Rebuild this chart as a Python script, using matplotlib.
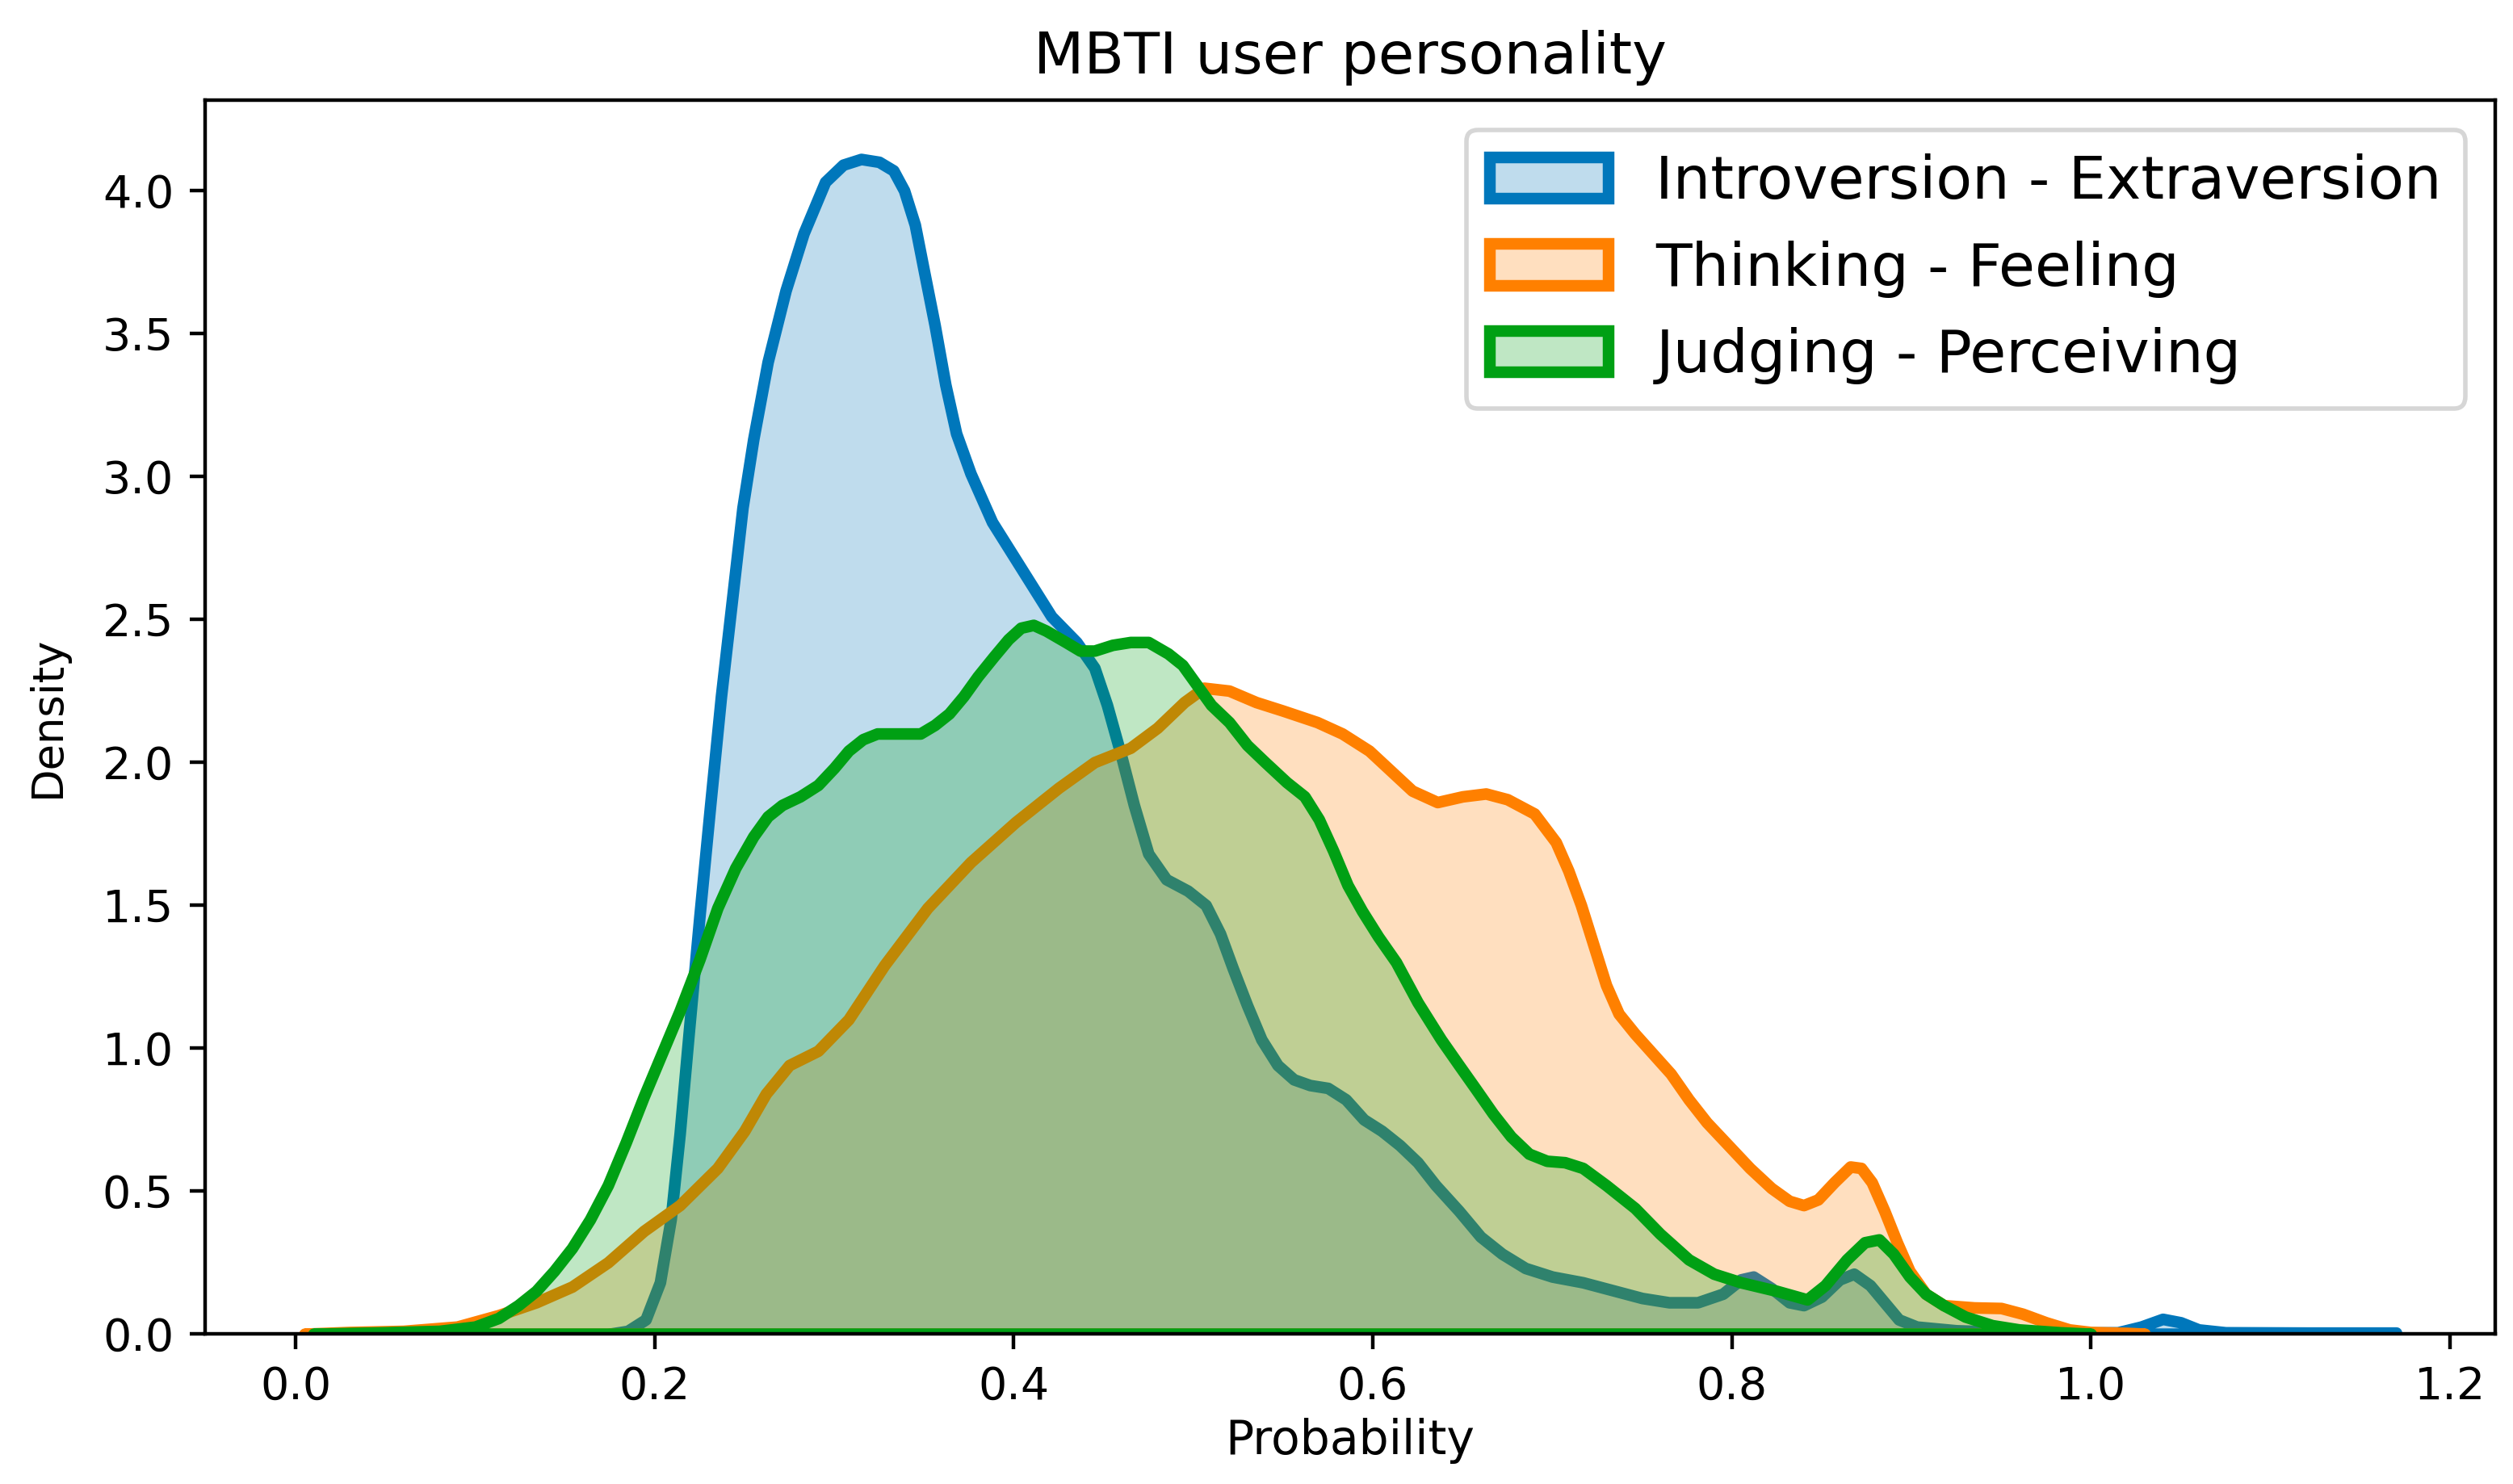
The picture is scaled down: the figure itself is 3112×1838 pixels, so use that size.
import matplotlib
matplotlib.use('Agg')
import matplotlib.pyplot as plt
from matplotlib.colors import to_rgba

# densities
ie_x = [0.175, 0.185, 0.195, 0.203, 0.209, 0.214, 0.219, 0.225, 0.231, 0.237,
        0.243, 0.249, 0.255, 0.263, 0.273, 0.283, 0.295, 0.305, 0.315, 0.325,
        0.333, 0.339, 0.345, 0.350, 0.356, 0.362, 0.368, 0.376, 0.388, 0.405,
        0.421, 0.435, 0.445, 0.452, 0.460, 0.467, 0.475, 0.485, 0.497, 0.507,
        0.515, 0.522, 0.530, 0.538, 0.547, 0.556, 0.565, 0.575, 0.585, 0.595,
        0.605, 0.615, 0.625, 0.635, 0.648, 0.660, 0.672, 0.685, 0.700, 0.717,
        0.735, 0.750, 0.765, 0.781, 0.795, 0.805, 0.812, 0.822, 0.832, 0.840,
        0.850, 0.860, 0.868, 0.877, 0.885, 0.893, 0.903, 0.925, 0.955, 0.990,
        1.015, 1.028, 1.040, 1.050, 1.060, 1.075, 1.120, 1.170]
ie_y = [0.0, 0.01, 0.05, 0.18, 0.40, 0.70, 1.05, 1.46, 1.85, 2.23,
        2.56, 2.89, 3.13, 3.40, 3.65, 3.85, 4.03, 4.09, 4.11, 4.10,
        4.07, 4.00, 3.88, 3.72, 3.53, 3.32, 3.15, 3.01, 2.84, 2.67,
        2.51, 2.42, 2.33, 2.20, 2.02, 1.85, 1.68, 1.59, 1.55, 1.50,
        1.40, 1.28, 1.15, 1.03, 0.94, 0.89, 0.87, 0.86, 0.82, 0.75,
        0.71, 0.66, 0.60, 0.52, 0.43, 0.34, 0.28, 0.23, 0.20, 0.18,
        0.15, 0.125, 0.11, 0.11, 0.14, 0.19, 0.20, 0.16, 0.11, 0.10,
        0.13, 0.19, 0.21, 0.17, 0.11, 0.05, 0.025, 0.012, 0.006, 0.004,
        0.005, 0.025, 0.052, 0.04, 0.015, 0.005, 0.004, 0.004]

tf_x = [0.005, 0.030, 0.060, 0.090, 0.113, 0.134, 0.154, 0.174, 0.194, 0.214,
        0.235, 0.250, 0.262, 0.275, 0.291, 0.308, 0.328, 0.352, 0.376, 0.401,
        0.425, 0.445, 0.465, 0.480, 0.495, 0.506, 0.520, 0.535, 0.550, 0.569,
        0.583, 0.598, 0.610, 0.622, 0.636, 0.650, 0.663, 0.675, 0.690, 0.702,
        0.709, 0.716, 0.723, 0.730, 0.737, 0.746, 0.756, 0.766, 0.776, 0.786,
        0.798, 0.810, 0.822, 0.832, 0.840, 0.848, 0.857, 0.866, 0.872, 0.878,
        0.885, 0.892, 0.899, 0.908, 0.918, 0.935, 0.950, 0.962, 0.975, 0.988,
        1.000, 1.020, 1.030]
tf_y = [0.0, 0.006, 0.01, 0.025, 0.065, 0.11, 0.165, 0.25, 0.36, 0.45,
        0.58, 0.71, 0.84, 0.94, 0.99, 1.10, 1.29, 1.49, 1.65, 1.79,
        1.91, 2.00, 2.05, 2.12, 2.21, 2.26, 2.25, 2.21, 2.18, 2.14,
        2.10, 2.04, 1.97, 1.90, 1.86, 1.88, 1.89, 1.87, 1.82, 1.72,
        1.62, 1.50, 1.36, 1.22, 1.12, 1.05, 0.98, 0.91, 0.82, 0.74,
        0.66, 0.58, 0.51, 0.465, 0.45, 0.47, 0.53, 0.585, 0.58, 0.53,
        0.43, 0.32, 0.22, 0.14, 0.10, 0.092, 0.09, 0.07, 0.04, 0.015,
        0.006, 0.003, 0.0]

jp_x = [0.010, 0.050, 0.080, 0.100, 0.113, 0.124, 0.134, 0.144, 0.154, 0.164,
        0.174, 0.184, 0.194, 0.204, 0.214, 0.225, 0.235, 0.245, 0.255, 0.263,
        0.271, 0.281, 0.291, 0.300, 0.308, 0.316, 0.324, 0.336, 0.348, 0.356,
        0.364, 0.372, 0.380, 0.389, 0.397, 0.404, 0.411, 0.418, 0.429, 0.437,
        0.445, 0.455, 0.465, 0.475, 0.486, 0.494, 0.502, 0.510, 0.520, 0.530,
        0.540, 0.552, 0.562, 0.570, 0.578, 0.586, 0.594, 0.603, 0.613, 0.625,
        0.638, 0.648, 0.657, 0.667, 0.677, 0.687, 0.697, 0.707, 0.717, 0.730,
        0.746, 0.760, 0.776, 0.790, 0.805, 0.825, 0.842, 0.852, 0.864, 0.874,
        0.882, 0.890, 0.899, 0.908, 0.918, 0.930, 0.945, 0.960, 0.983, 1.000]
jp_y = [0.0, 0.005, 0.01, 0.025, 0.055, 0.10, 0.15, 0.22, 0.30, 0.40,
        0.52, 0.67, 0.83, 0.98, 1.13, 1.31, 1.49, 1.63, 1.74, 1.81,
        1.85, 1.88, 1.92, 1.98, 2.04, 2.08, 2.10, 2.10, 2.10, 2.13,
        2.17, 2.23, 2.30, 2.37, 2.43, 2.47, 2.48, 2.46, 2.42, 2.39,
        2.39, 2.41, 2.42, 2.42, 2.38, 2.34, 2.27, 2.20, 2.14, 2.06,
        2.00, 1.93, 1.88, 1.80, 1.69, 1.57, 1.48, 1.39, 1.30, 1.16,
        1.03, 0.94, 0.86, 0.77, 0.69, 0.63, 0.605, 0.60, 0.58, 0.52,
        0.44, 0.35, 0.26, 0.21, 0.18, 0.15, 0.12, 0.17, 0.26, 0.32,
        0.33, 0.28, 0.20, 0.14, 0.10, 0.06, 0.03, 0.015, 0.005, 0.0]

names = ['Introversion - Extraversion', 'Thinking - Feeling', 'Judging - Perceiving']
colors = ['#0077bb', '#ff8000', '#00a014']

fig = plt.figure(figsize=(7.78, 4.595), dpi=400)
ax = fig.add_axes([0.0816, 0.1012, 0.9113, 0.8313])

for xs, ys, c, n in zip([ie_x, tf_x, jp_x], [ie_y, tf_y, jp_y], colors, names):
    ax.fill_between(xs, ys, facecolor=to_rgba(c, 0.25), edgecolor=c,
                    linewidth=2.6, label=n)

ax.set_xlim(-0.0504, 1.2252)
ax.set_ylim(0, 4.316)
ax.set_xlabel('Probability', fontsize=10.5, labelpad=2)
ax.set_ylabel('Density', fontsize=9.5, labelpad=7.5)
ax.set_title('MBTI user personality', fontsize=13)
ax.legend(loc='upper right', fontsize=13.2)

fig.savefig('out.png', dpi=400)
